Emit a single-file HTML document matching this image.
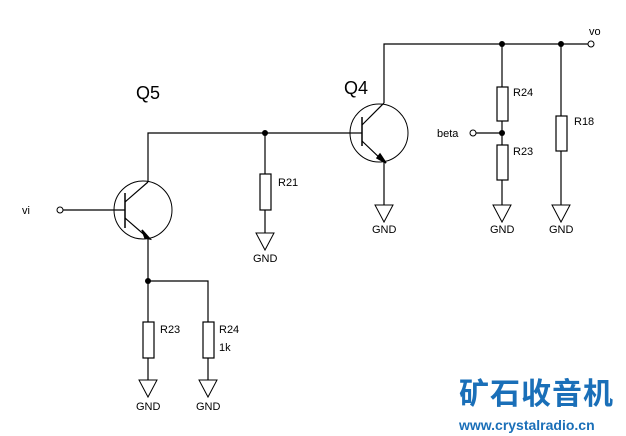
<!DOCTYPE html><html><head><style>body{margin:0;background:#fff}svg{display:block}</style></head><body>
<svg width="626" height="436" viewBox="0 0 626 436" font-family="Liberation Sans, sans-serif" font-size="11">
<g stroke="#000" stroke-width="1.2" fill="none">
<!-- Q5 -->
<circle cx="143" cy="210" r="29" stroke-width="1"/>
<line x1="125" y1="193" x2="125" y2="228" stroke-width="1.5"/>
<line x1="63" y1="210" x2="125" y2="210"/>
<line x1="125" y1="202" x2="148" y2="182"/>
<polyline points="148,182 148,133 350,133"/>
<line x1="125" y1="218" x2="148" y2="238"/>
<polyline points="148,238 148,322"/>
<polyline points="148,281 208,281 208,322"/>
<rect x="143" y="322" width="11" height="36"/><rect x="203" y="322" width="11" height="36"/>
<line x1="148" y1="358" x2="148" y2="380"/><line x1="208" y1="358" x2="208" y2="380"/>
<!-- R21 -->
<line x1="265" y1="133" x2="265" y2="174"/>
<rect x="260" y="174" width="11" height="36"/>
<line x1="265" y1="210" x2="265" y2="233"/>
<!-- Q4 -->
<circle cx="379" cy="133" r="29" stroke-width="1"/>
<line x1="362" y1="117" x2="362" y2="146" stroke-width="1.5"/>
<line x1="350" y1="133" x2="362" y2="133"/>
<line x1="362" y1="125" x2="384" y2="103"/>
<polyline points="384,103 384,44 588,44"/>
<line x1="362" y1="141" x2="384" y2="162"/>
<line x1="384" y1="162" x2="384" y2="205"/>
<!-- right column -->
<line x1="502" y1="44" x2="502" y2="87"/>
<rect x="497" y="87" width="11" height="34"/>
<line x1="502" y1="121" x2="502" y2="145"/>
<line x1="476" y1="133" x2="502" y2="133"/>
<rect x="497" y="145" width="11" height="35"/>
<line x1="502" y1="180" x2="502" y2="205"/>
<line x1="561" y1="44" x2="561" y2="116"/>
<rect x="556" y="116" width="11" height="35"/>
<line x1="561" y1="151" x2="561" y2="205"/>
<!-- GND triangles -->
<g stroke-width="1">
<polygon points="256,233 274,233 265,250"/>
<polygon points="375,205 393,205 384,222"/>
<polygon points="493,205 511,205 502,222"/>
<polygon points="552,205 570,205 561,222"/>
<polygon points="139,380 157,380 148,397"/>
<polygon points="199,380 217,380 208,397"/>
<circle cx="60" cy="210" r="3"/><circle cx="591" cy="44" r="3"/><circle cx="473" cy="133" r="3"/>
</g>
</g>
<g fill="#000">
<path d="M142,230 L150,239 L145,238 Z M380,154 L386,163 L377,158 Z" stroke="#000" stroke-width="1.5"/>
<circle cx="265" cy="133" r="3"/><circle cx="502" cy="44" r="3"/><circle cx="561" cy="44" r="3"/><circle cx="502" cy="133" r="3"/><circle cx="148" cy="281" r="3"/>
<text x="136" y="99" font-size="18">Q5</text>
<text x="344" y="94" font-size="18">Q4</text>
<text x="22" y="214">vi</text>
<text x="589" y="35">vo</text>
<text x="437" y="137">beta</text>
<text x="278" y="186">R21</text>
<text x="513" y="96">R24</text>
<text x="513" y="155">R23</text>
<text x="574" y="125">R18</text>
<text x="160" y="333">R23</text>
<text x="219" y="333">R24</text>
<text x="219" y="351">1k</text>
<text x="253" y="262">GND</text>
<text x="372" y="233">GND</text>
<text x="490" y="233">GND</text>
<text x="549" y="233">GND</text>
<text x="136" y="410">GND</text>
<text x="196" y="410">GND</text>
</g>
<text x="459" y="404" font-size="30" font-weight="bold" fill="#1a6fb8" font-family="Noto Sans CJK SC, sans-serif" letter-spacing="1">矿石收音机</text>
<text x="459" y="430" font-size="14" font-weight="bold" fill="#1a6fb8">www.crystalradio.cn</text>
</svg>
</body></html>
